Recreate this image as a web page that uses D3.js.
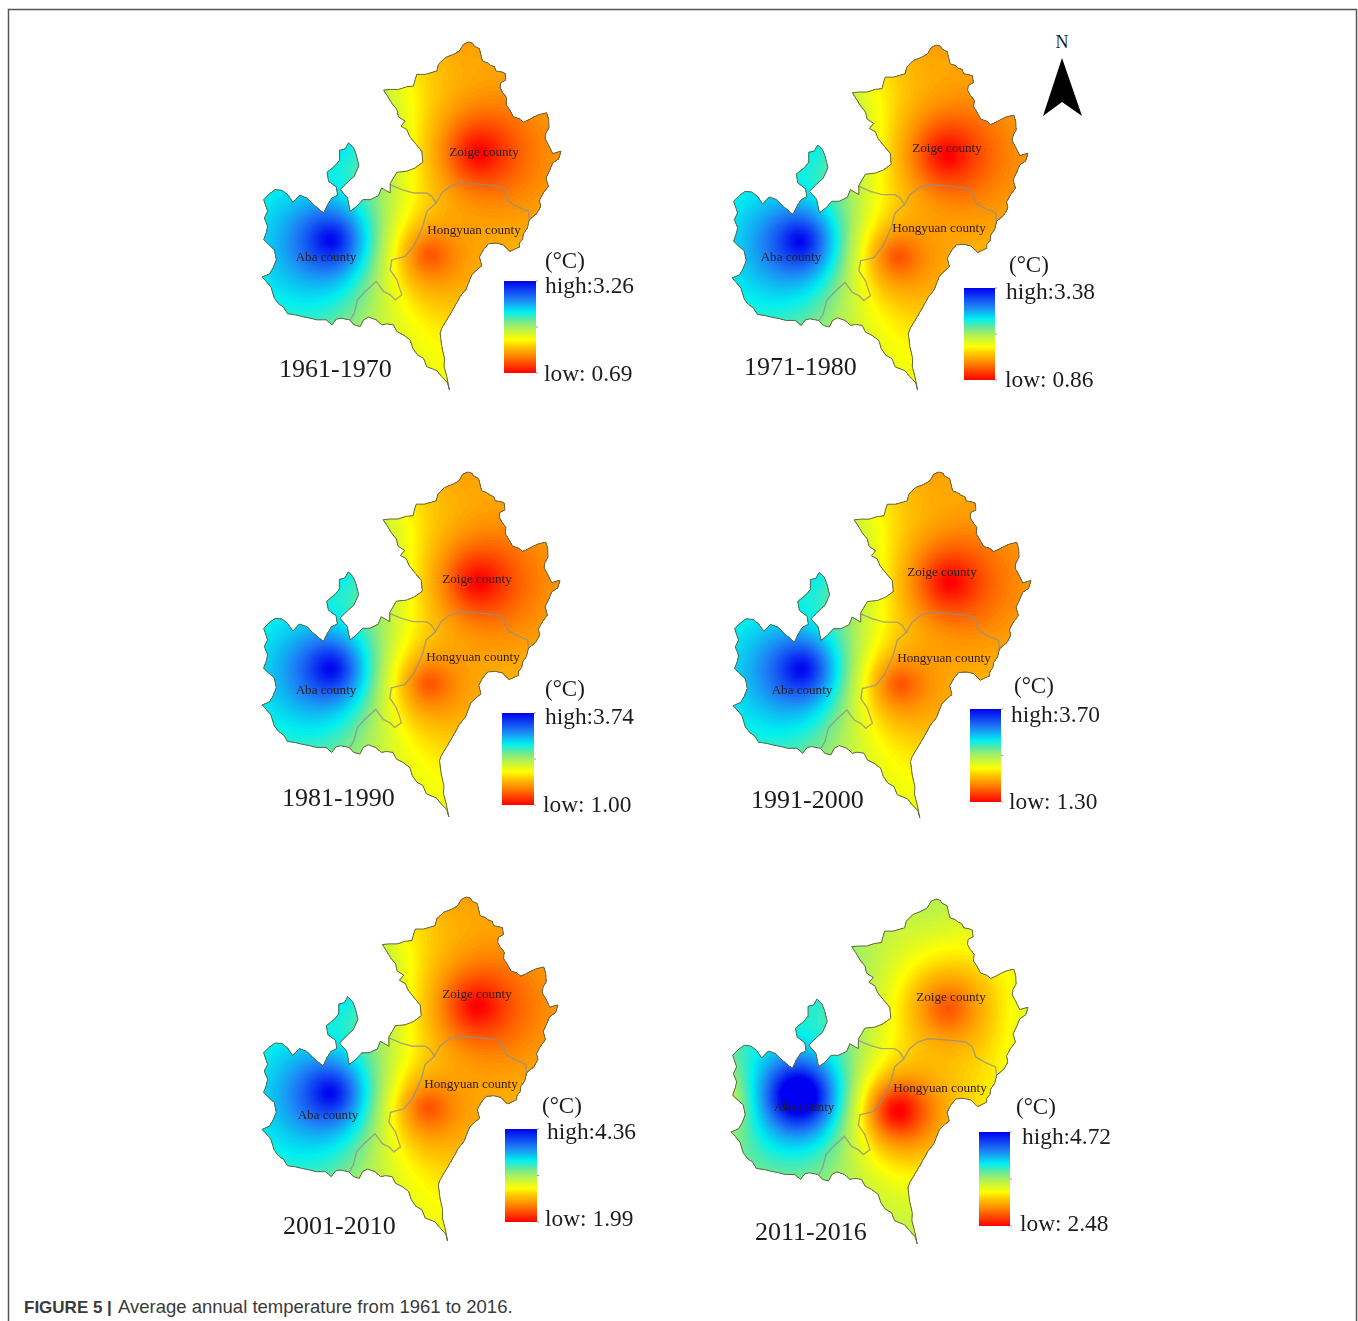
<!DOCTYPE html>
<html>
<head>
<meta charset="utf-8">
<script src="https://cdn.jsdelivr.net/npm/d3@7"></script>
<style>
  html, body { margin: 0; padding: 0; background: #fff; }
  svg { display: block; }
  text { font-family: "Liberation Serif", serif; fill: #1c1c1c; }
  .panel { filter: blur(0.4px); }
  .county { font-size: 13.1px; fill: #2a1d20; text-anchor: middle; }
  .caption { font-family: "Liberation Sans", sans-serif; fill: #3a3a3a; }
</style>
</head>
<body>
<svg id="chart" width="1358" height="1321"></svg>
<script>
// data
const periods = ['1961-1970', '1971-1980', '1981-1990', '1991-2000', '2001-2010', '2011-2016'];
const highs = [3.26, 3.38, 3.74, 3.70, 4.36, 4.72];
const lows = [0.69, 0.86, 1.00, 1.30, 1.99, 2.48];
const abaTemps = [3.26, 3.38, 3.74, 3.70, 4.36, 4.72];
const zoigeTemps = [0.69, 0.86, 1.00, 1.30, 1.99, 2.72];
const hongyuanTemps = [1.00, 1.16, 1.33, 1.59, 2.27, 2.48];
// estimated helper points around the counties, null where a panel shows no sign of them
const islandTemps = [2.55, 2.66, 2.95, 3.02, 3.70, 3.75];
const northTemps = [1.20, 1.36, 1.55, 1.78, 2.46, 3.45];
const westTemps = [null, null, null, null, null, 3.2];
const southwestTemps = [null, null, null, null, null, 3.45];
const eastTemps = [null, null, null, null, null, 3.45];
const southTemps = [null, null, null, null, null, 3.45];
const idwPowers = [1.5, 1.5, 1.5, 1.5, 1.5, 1.7];
// the top of the colour ramp saturates early in the last panel
const rampTops = [3.26, 3.38, 3.74, 3.70, 4.36, 4.4];

// station positions, in map units: Aba, Zoige, Hongyuan, island, north, west, southwest, east, south
const stationX = [240, 690, 542, 250, 620, -30, 150, 1060, 620];
const stationY = [632, 370, 678, 310, -30, 650, 1060, 420, 1230];
const stationTemps = [abaTemps, zoigeTemps, hongyuanTemps, islandTemps, northTemps, westTemps, southwestTemps, eastTemps, southTemps];

const outline = [[655,38],[668,42],[672,50],[688,58],[692,75],[697,95],[712,100],[722,108],[733,112],[738,125],[755,128],[765,132],[767,152],[752,160],[750,175],[758,190],[770,205],[768,225],[778,240],[790,262],[808,268],[820,278],[838,270],[852,262],[868,255],[890,250],[896,270],[897,295],[888,310],[885,328],[895,345],[908,372],[933,365],[926,388],[908,400],[900,420],[888,445],[895,470],[880,490],[868,512],[872,530],[860,552],[838,570],[832,595],[820,612],[818,628],[808,640],[808,652],[780,665],[760,645],[738,640],[715,642],[700,660],[688,682],[695,708],[680,720],[665,735],[655,760],[648,778],[630,800],[622,815],[605,845],[590,870],[575,895],[570,910],[575,950],[583,985],[582,1010],[590,1040],[598,1080],[592,1058],[575,1040],[560,1022],[530,1010],[520,985],[502,975],[488,955],[480,930],[460,915],[440,905],[430,885],[410,882],[395,885],[378,870],[355,862],[340,870],[330,890],[312,885],[298,870],[272,865],[258,868],[245,885],[228,870],[200,870],[180,865],[155,860],[135,855],[112,852],[100,832],[85,822],[72,805],[62,772],[48,755],[35,742],[58,732],[68,715],[78,690],[72,660],[55,645],[40,630],[48,608],[52,590],[42,565],[52,545],[40,510],[58,492],[75,480],[95,482],[112,495],[128,518],[148,497],[170,505],[190,525],[220,550],[232,525],[245,505],[262,497],[258,472],[235,455],[230,428],[255,408],[268,392],[268,362],[285,358],[295,340],[310,355],[318,375],[326,408],[312,440],[295,455],[270,480],[292,505],[300,545],[320,530],[338,510],[360,510],[385,498],[394,475],[420,490],[420,462],[440,428],[470,425],[495,415],[518,398],[515,365],[498,345],[478,320],[470,300],[452,290],[465,275],[445,262],[440,240],[425,222],[412,200],[400,182],[420,180],[445,180],[470,172],[490,170],[495,150],[500,135],[525,135],[560,125],[565,105],[585,85],[610,75],[628,65],[640,45],[655,38]];
const borderNorth = [[420,465],[455,480],[490,490],[530,490],[545,500],[558,520],[575,490],[600,470],[630,460],[665,462],[700,465],[745,470],[765,485],[775,515],[800,530],[835,545],[838,570]];
const borderWest = [[558,520],[530,545],[518,590],[505,620],[490,650],[465,680],[425,690],[420,720],[440,750],[455,795],[435,810],[420,795],[400,785],[378,755],[345,785],[322,810],[312,850],[300,870]];

const rampStops = [0, 0.2, 0.29, 0.36, 0.5, 0.58, 0.66, 0.8, 1];
const rampColors = ['#ff0000', '#ff9000', '#ffc800', '#ffff00', '#a8f060', '#60e8a0', '#00f0f0', '#1e80f5', '#0000f0'];

// where each panel sits on the page
const layout = [
  { box: [262, 561, 42, 390], zoige: [484, 156], hong: [474, 234], aba: [326, 261], period: [279, 377], bar: [504, 536, 281, 373], unit: [545, 268], high: [545, 293], low: [544, 381] },
  { box: [732, 1028, 45, 390], zoige: [947, 152], hong: [939, 232], aba: [791, 261], period: [744, 375], bar: [964, 995, 288, 380], unit: [1009, 272], high: [1006, 299], low: [1005, 387] },
  { box: [262, 560, 472, 817], zoige: [477, 583], hong: [473, 661], aba: [326, 694], period: [282, 806], bar: [502, 534, 713, 805], unit: [545, 696], high: [545, 724], low: [543, 812] },
  { box: [733, 1031, 472, 818], zoige: [942, 576], hong: [944, 662], aba: [802, 694], period: [751, 808], bar: [970, 1001, 709, 802], unit: [1014, 693], high: [1011, 722], low: [1009, 809] },
  { box: [262, 558, 897, 1241], zoige: [477, 998], hong: [471, 1088], aba: [328, 1119], period: [283, 1234], bar: [505, 537, 1129, 1222], unit: [542, 1113], high: [547, 1139], low: [545, 1226] },
  { box: [731, 1028, 899, 1244], zoige: [951, 1001], hong: [940, 1092], aba: [804, 1111], period: [755, 1240], bar: [979, 1010, 1132, 1226], unit: [1016, 1114], high: [1022, 1144], low: [1020, 1231] },
];

const svg = d3.select('#chart');
const defs = svg.append('defs');

const grad = defs.append('linearGradient').attr('id', 'ramp')
  .attr('x1', 0).attr('y1', 1).attr('x2', 0).attr('y2', 0);
rampStops.forEach((s, i) => grad.append('stop').attr('offset', s).attr('stop-color', rampColors[i]));

// page frame
svg.append('path')
  .attr('d', 'M8.5,1321V9.5H1356.5V1321')
  .attr('fill', 'none').attr('stroke', '#555').attr('stroke-width', 1.5);

const gridStep = 5, nx = 240, ny = 222;

function idwField(p) {
  const power = idwPowers[p];
  const values = new Float64Array(nx * ny);
  for (let j = 0; j < ny; j++) {
    for (let i = 0; i < nx; i++) {
      const x = (i + 0.5) * gridStep, y = (j + 0.5) * gridStep;
      let num = 0, den = 0;
      stationTemps.forEach((temps, k) => {
        if (temps[p] === null) return;
        const dx = x - stationX[k], dy = y - stationY[k];
        const w = 1 / Math.pow(dx * dx + dy * dy + 1, power / 2);
        num += w * temps[p]; den += w;
      });
      values[j * nx + i] = num / den;
    }
  }
  return values;
}

periods.forEach((period, p) => {
  const lay = layout[p];
  const g = svg.append('g').attr('class', 'panel');

  const xScale = d3.scaleLinear().domain([35, 933]).range([lay.box[0], lay.box[1]]);
  const yScale = d3.scaleLinear().domain([38, 1080]).range([lay.box[2], lay.box[3]]);
  const line = d3.line().x(d => xScale(d[0])).y(d => yScale(d[1]));

  const color = d3.scaleLinear()
    .domain(rampStops.map(s => lows[p] + s * (rampTops[p] - lows[p])))
    .range(rampColors)
    .clamp(true);

  defs.append('clipPath').attr('id', `clip${p}`)
    .append('path').attr('d', line(outline));

  // interpolated surface from the stations
  const thresholds = d3.range(lows[p] - 0.2, highs[p] + 0.02, (highs[p] - lows[p]) / 110);
  const bands = d3.contours().size([nx, ny]).thresholds(thresholds)(idwField(p));
  const toPage = d3.geoPath(d3.geoTransform({
    point(x, y) { this.stream.point(xScale(x * gridStep), yScale(y * gridStep)); }
  }));

  g.append('g').attr('clip-path', `url(#clip${p})`)
    .selectAll('path')
    .data(bands)
    .join('path')
    .attr('d', toPage)
    .attr('fill', d => color(d.value));

  g.append('path').attr('d', line(borderNorth))
    .attr('fill', 'none').attr('stroke', '#8f8f8f').attr('stroke-width', 1.4).attr('stroke-opacity', 0.75);
  g.append('path').attr('d', line(borderWest))
    .attr('fill', 'none').attr('stroke', '#8f8f8f').attr('stroke-width', 1.4).attr('stroke-opacity', 0.75);
  g.append('path').attr('d', line(outline))
    .attr('fill', 'none').attr('stroke', '#5d6650').attr('stroke-width', 1);

  g.append('text').attr('class', 'county').attr('x', lay.zoige[0]).attr('y', lay.zoige[1]).text('Zoige county');
  g.append('text').attr('class', 'county').attr('x', lay.hong[0]).attr('y', lay.hong[1]).text('Hongyuan county');
  g.append('text').attr('class', 'county').attr('x', lay.aba[0]).attr('y', lay.aba[1]).text('Aba county');

  g.append('text').attr('x', lay.period[0]).attr('y', lay.period[1])
    .style('font-size', '26px').text(period);

  // legend
  const [bx0, bx1, by0, by1] = lay.bar;
  g.append('rect')
    .attr('x', bx0).attr('y', by0).attr('width', bx1 - bx0).attr('height', by1 - by0)
    .attr('fill', 'url(#ramp)');
  [by0, (by0 + by1) / 2, by1].forEach(ty => {
    g.append('line').attr('x1', bx1).attr('x2', bx1 + 2).attr('y1', ty).attr('y2', ty)
      .attr('stroke', '#999');
  });
  g.append('text').attr('x', lay.unit[0]).attr('y', lay.unit[1]).style('font-size', '23px').text('(°C)');
  g.append('text').attr('x', lay.high[0]).attr('y', lay.high[1]).style('font-size', '23.4px')
    .text(`high:${highs[p].toFixed(2)}`);
  g.append('text').attr('x', lay.low[0]).attr('y', lay.low[1]).style('font-size', '23.4px')
    .text(`low: ${lows[p].toFixed(2)}`);
});

// north arrow
svg.append('path')
  .attr('d', d3.line()([[1062, 58], [1082, 116], [1062, 102], [1043, 116]]) + 'Z')
  .attr('fill', '#000');
svg.append('text').attr('x', 1062).attr('y', 48).attr('text-anchor', 'middle')
  .style('font-size', '18px').text('N');

// caption
svg.append('text').attr('class', 'caption').attr('x', 24).attr('y', 1313)
  .style('font-weight', 'bold').style('font-size', '17px').text('FIGURE 5 |');
svg.append('text').attr('class', 'caption').attr('x', 118).attr('y', 1313)
  .style('font-size', '18.5px').text('Average annual temperature from 1961 to 2016.');
</script>
</body>
</html>
